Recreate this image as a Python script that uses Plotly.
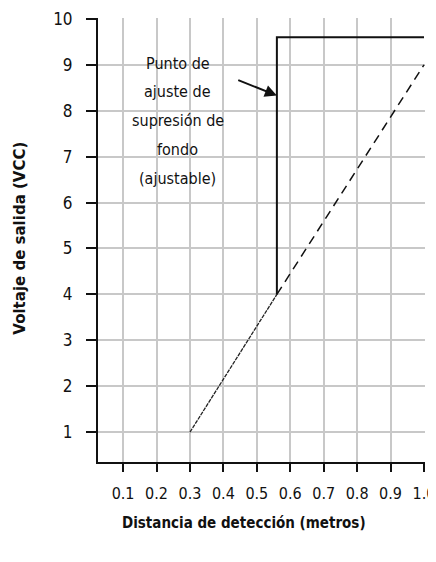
import plotly.graph_objects as go

# lectura del grafico
x_rampa = [0.3, 0.56]
y_rampa = [1.0, 4.0]
x_rampa_alta = [0.56, 1.0]
y_rampa_alta = [4.0, 9.0]
x_salida = [0.56, 0.56, 1.0]
y_salida = [4.0, 9.6, 9.6]
x_ticks = [0.1, 0.2, 0.3, 0.4, 0.5, 0.6, 0.7, 0.8, 0.9, 1.0]
x_labels = ["0.1", "0.2", "0.3", "0.4", "0.5", "0.6", "0.7", "0.8", "0.9", "1.0"]
y_ticks = [1, 2, 3, 4, 5, 6, 7, 8, 9, 10]
nota_lineas = ["Punto de", "ajuste de", "supresión de", "fondo", "(ajustable)"]
nota_y = [9.04, 8.41, 7.78, 7.15, 6.52]

fuente = "DejaVu Sans Condensed, Liberation Sans Narrow, Arial Narrow, sans-serif"

fig = go.Figure()
fig.add_trace(go.Scatter(x=x_rampa, y=y_rampa, mode="lines",
                         line=dict(color="#222222", width=1.3, dash="4px,1px")))
fig.add_trace(go.Scatter(x=x_rampa_alta, y=y_rampa_alta, mode="lines",
                         line=dict(color="#111111", width=1.5, dash="9px,6px")))
fig.add_trace(go.Scatter(x=x_salida, y=y_salida, mode="lines",
                         line=dict(color="#111111", width=2)))

# caja blanca detras del texto
fig.add_shape(type="rect", x0=0.09, x1=0.445, y0=6.05, y1=9.55,
              fillcolor="white", line=dict(width=0), layer="below")

# el texto va linea a linea para conseguir el interlineado del original
for linea, yy in zip(nota_lineas, nota_y):
    fig.add_annotation(x=0.263, y=yy, text=linea, showarrow=False,
                       font=dict(family=fuente, size=16, color="#111111"))
fig.add_annotation(x=0.56, y=8.33, ax=0.44, ay=8.68, axref="x", ayref="y",
                   text="", showarrow=True, arrowhead=2, arrowsize=1.2,
                   arrowwidth=2, arrowcolor="#111111")

# la pagina tiene 8px de margen en el body, se compensa aqui
fig.add_annotation(x=0.446, y=-0.137, xref="paper", yref="paper",
                   xanchor="center", yanchor="middle",
                   text="<b>Distancia de detección (metros)</b>", showarrow=False,
                   font=dict(family=fuente, size=15, color="#111111"))
fig.add_annotation(x=-0.239, y=0.505, xref="paper", yref="paper", textangle=-90,
                   xanchor="center", yanchor="middle",
                   text="<b>Voltaje de salida (VCC)</b>", showarrow=False,
                   font=dict(family="DejaVu Sans, sans-serif", size=15, color="#111111"))

fig.update_xaxes(range=[0.025, 1.003], tickvals=x_ticks, ticktext=x_labels,
                 showgrid=True, gridcolor="#c8c8c8", gridwidth=2,
                 showline=True, linecolor="#111111", linewidth=2,
                 ticks="outside", ticklen=8, tickwidth=2, tickcolor="#111111",
                 ticklabelstandoff=8, zeroline=False, automargin=False,
                 tickfont=dict(family=fuente, size=16, color="#111111"))
fig.update_yaxes(range=[0.35, 10.02], tickvals=y_ticks,
                 showgrid=True, gridcolor="#c8c8c8", gridwidth=2,
                 showline=True, linecolor="#111111", linewidth=2,
                 ticks="outside", ticklen=10, tickwidth=2, tickcolor="#111111",
                 ticklabelstandoff=10, zeroline=False, automargin=False,
                 tickfont=dict(family=fuente, size=17, color="#111111"))

fig.update_layout(width=436, height=562, showlegend=False,
                  plot_bgcolor="white", paper_bgcolor="white",
                  margin=dict(l=90, r=19, t=10, b=108))

fig.write_html("out.html")
